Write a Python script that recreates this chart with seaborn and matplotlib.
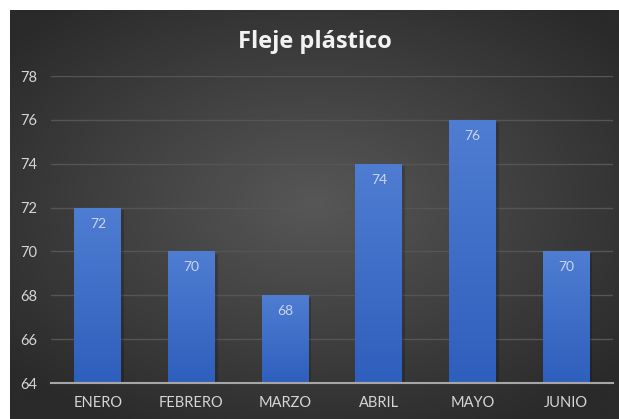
import numpy as np
import matplotlib
matplotlib.use("Agg")
import matplotlib.pyplot as plt
import matplotlib.patheffects as pe
from matplotlib.colors import LinearSegmentedColormap
import seaborn as sns

meses = ["ENERO", "FEBRERO", "MARZO", "ABRIL", "MAYO", "JUNIO"]
valores = [72, 70, 68, 74, 76, 70]
titulo = "Fleje plástico"

sns.set_style("dark")
plt.rcParams['font.family'] = ['Lato', 'DejaVu Sans']

W, H = 619, 419
fig = plt.figure(figsize=(W / 100, H / 100), dpi=100)
fig.patch.set_facecolor("white")

# dark radial background of the chart area (white margin top and left)
bg = fig.add_axes([10 / W, 0, (W - 10) / W, (H - 10) / H], zorder=-5)
yy, xx = np.mgrid[-1:1:300j, -1:1:450j]
r = np.clip(np.sqrt((xx * 0.95) ** 2 + ((yy + 0.05) * 1.0) ** 2) / 1.25, 0, 1)
bg_cmap = LinearSegmentedColormap.from_list("bg", ["#575757", "#2a2a2a"])
bg.imshow(r, cmap=bg_cmap, aspect="auto", vmin=0, vmax=1)
bg.set_axis_off()

ax = fig.add_axes([51 / W, 36 / H, (613 - 51) / W, (383 - 76) / H])
ax.set_facecolor("none")

sns.barplot(x=meses, y=valores, color="#3d6cc8", width=0.5, ax=ax,
            edgecolor="none", zorder=3)

ax.set_ylim(64, 78)
ax.set_yticks(range(64, 79, 2))
xl = ax.get_xlim()

# vertical gradient on the bars
bar_cmap = LinearSegmentedColormap.from_list("bar", ["#2f5fbd", "#4f7dd2"])
grad = np.linspace(1, 0, 100).reshape(-1, 1)
for p in ax.patches:
    p.set_path_effects([pe.SimplePatchShadow(offset=(2, -2), shadow_rgbFace="black", alpha=0.18),
                        pe.Normal()])
    x0, w, top = p.get_x(), p.get_width(), p.get_height()
    im = ax.imshow(grad, extent=[x0, x0 + w, 64, top], aspect="auto",
                   cmap=bar_cmap, zorder=4)
    im.set_clip_path(p)

ax.set_xlim(xl)
ax.set_ylim(64, 78)

for i, v in enumerate(valores):
    ax.annotate(str(v), xy=(i, v), xytext=(0, -16), textcoords="offset pixels",
                ha="center", va="center", fontsize=10, color="#c9d5ef", zorder=6)

ax.grid(True, axis="y", color="#555555", linewidth=1)
ax.set_axisbelow(True)
for s in ["top", "right", "left"]:
    ax.spines[s].set_visible(False)
ax.spines["bottom"].set_color("#a6a6a6")
ax.spines["bottom"].set_linewidth(1.5)
ax.spines["bottom"].set_zorder(7)

ax.tick_params(axis="both", length=0, colors="#d6d6d6", labelsize=10.5)
ax.tick_params(axis="y", pad=10)
ax.tick_params(axis="x", pad=9)

fig.text(0.5 + 5 / W, 1 - 42 / H, titulo, ha="center", va="center",
         fontsize=17, fontweight="bold", color="#f2f2f2",
         family=["Open Sans", "DejaVu Sans"])

fig.savefig("out.png", dpi=100, facecolor=fig.get_facecolor())
